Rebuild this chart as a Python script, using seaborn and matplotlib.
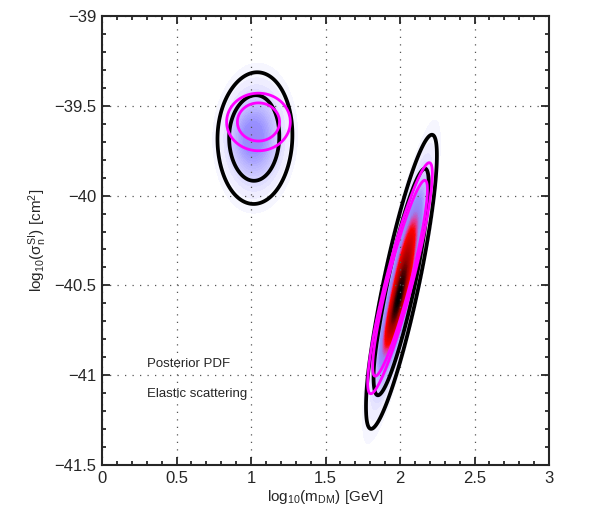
import numpy as np
import seaborn as sns
import matplotlib.pyplot as plt
from matplotlib.colors import LinearSegmentedColormap

# posterior PDF: gaussian components
post_mx = [1.03, 2.01, 1.97, 0.95]
post_my = [-39.68, -40.48, -40.64, -39.66]
post_sx = [0.100, 0.080, 0.058, 0.07]
post_sy = [0.148, 0.276, 0.150, 0.10]
post_rho = [0.05, 0.86, 0.87, 0.0]
post_amp = [0.21, 0.80, 0.25, 0.04]
# black contours, as fraction of the peak density
post_levels = [0.01, 0.06]

# profile likelihood (magenta contours)
prof_mx = [1.05, 2.00]
prof_my = [-39.59, -40.46]
prof_sx = [0.10, 0.160]
prof_sy = [0.075, 0.475]
prof_rho = [0.0, 0.905]
prof_amp = [1.0, 1.0]
prof_pow = [2.4, 6]
like_ratio = [0.0455, 0.317]

xticks = [0, 0.5, 1, 1.5, 2, 2.5, 3]
xticklabels = ["0", "0.5", "1", "1.5", "2", "2.5", "3"]
yticks = [-41.5, -41, -40.5, -40, -39.5, -39]
yticklabels = ["\u221241.5", "\u221241", "\u221240.5", "\u221240", "\u221239.5", "\u221239"]
notes = ["Posterior PDF", "Elastic scattering"]

# colour map stops (fraction of peak density)
cmap_pos = [0.0, 0.01, 0.06, 0.20, 0.30, 0.38, 0.47, 0.78, 1.0]
cmap_col = ["#ffffff", "#f4f3ff", "#d8d5ff", "#9890ff", "#9a80f0",
            "#e03c9c", "#ff0000", "#9a0000", "#000000"]


def mahal2(X, Y, mx, my, sx, sy, rho):
    dx = (X - mx) / sx
    dy = (Y - my) / sy
    return (dx**2 - 2 * rho * dx * dy + dy**2) / (1 - rho**2)


x = np.linspace(0, 3, 500)
y = np.linspace(-41.5, -39, 500)
X, Y = np.meshgrid(x, y)

P = np.zeros_like(X)
for mx, my, sx, sy, r, a in zip(post_mx, post_my, post_sx, post_sy, post_rho, post_amp):
    P += a * np.exp(-0.5 * mahal2(X, Y, mx, my, sx, sy, r))
P = P / P.max()

L = np.zeros_like(X)
for mx, my, sx, sy, r, a, p in zip(prof_mx, prof_my, prof_sx, prof_sy, prof_rho, prof_amp, prof_pow):
    L = np.maximum(L, a * np.exp(-0.5 * mahal2(X, Y, mx, my, sx, sy, r) ** (p / 2)))
L = L / L.max()

sns.set_style("ticks")
plt.rcParams["font.family"] = ["Liberation Sans", "DejaVu Sans"]
plt.rcParams["mathtext.default"] = "regular"

fig = plt.figure(figsize=(5.98, 5.23), dpi=100)
ax = fig.add_axes([0.1706, 0.1109, 0.7475, 0.8585])

cmap = LinearSegmentedColormap.from_list("pdf", list(zip(cmap_pos, cmap_col)))
lv = np.linspace(0.004, 1.0, 80)
ax.contourf(X, Y, P, levels=lv, cmap=cmap, vmin=0, vmax=1, zorder=1)

ax.grid(True, linestyle=(0, (1, 5)), color="#555555", linewidth=0.9, zorder=2)
ax.set_axisbelow(False)

ax.contour(X, Y, P, levels=post_levels, colors="black", linewidths=2.7, zorder=3)
ax.contour(X, Y, L, levels=like_ratio, colors="#ff00ff", linewidths=2.0, zorder=4)

for i, t in enumerate(notes):
    ax.text(0.30, -40.94 - 0.162 * i, t, fontsize=9.5, va="center", zorder=5)

ax.set_xlim(0, 3)
ax.set_ylim(-41.5, -39)
ax.set_xticks(xticks)
ax.set_xticklabels(xticklabels)
ax.set_yticks(yticks)
ax.set_yticklabels(yticklabels)
ax.set_xticks(np.arange(0, 3.01, 0.1), minor=True)
ax.set_yticks(np.arange(-41.5, -38.99, 0.1), minor=True)
ax.tick_params(which="both", direction="in", top=True, right=True, labelsize=12, width=1.3)
ax.tick_params(which="major", length=6, pad=4)
ax.tick_params(which="minor", length=3)
for s in ax.spines.values():
    s.set_linewidth(1.5)
    s.set_zorder(6)

ax.set_xlabel(r"log$_{10}$(m$_{DM}$) [GeV]", fontsize=11, labelpad=2)
ax.set_ylabel(r"log$_{10}$($\sigma_n^{SI}$) [cm$^2$]", fontsize=11, labelpad=4)

fig.savefig("out.png", dpi=100)
